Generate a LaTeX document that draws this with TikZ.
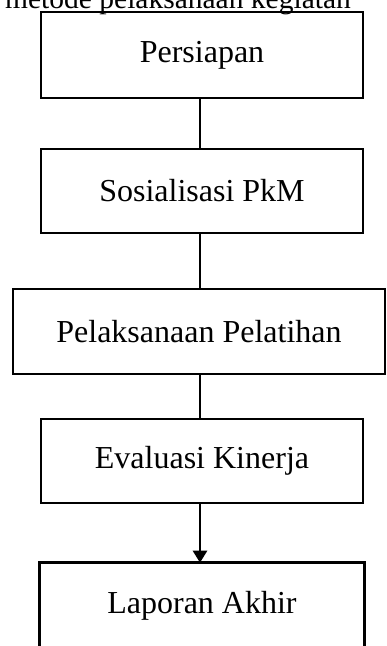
\documentclass[tikz,border=0pt]{standalone}
\usepackage{fontspec}
\setmainfont{Liberation Serif}
\usetikzlibrary{arrows.meta}
\tikzset{
  box/.style={draw=black, line width=2.6pt, minimum width=322pt, inner sep=0pt, font=\fontsize{32}{38}\selectfont, text=black},
  conn/.style={line width=2.6pt, draw=black},
}
\begin{document}
\begin{tikzpicture}[x=1pt,y=-1pt]
\useasboundingbox (0,0) rectangle (386,646);
\begin{scope}
\clip (0,0) rectangle (386,646);
\node[anchor=base west, font=\fontsize{29.5}{34}\selectfont, inner sep=0pt] (title) at (5,8) {metode pelaksanaan kegiatan};
\node[box, minimum height=86pt] (b1) at (202,55) {Persiapan};
\node[box, minimum height=84pt] (b2) at (202,191) {Sosialisasi PkM};
\node[box, minimum width=372pt, minimum height=85pt] (b3) at (199,331.5) {Pelaksanaan Pelatihan};
\node[box, minimum height=84pt] (b4) at (202,461) {Evaluasi Kinerja};
\node[box, draw=none, minimum height=84pt] (b5) at (202,606) {Laporan Akhir};
\draw[conn] (b5.south west) -- (b5.north west) -- (b5.north east) -- (b5.south east);
\draw[conn] (b1.south -| 200,0) -- (b2.north -| 200,0);
\draw[conn] (b2.south -| 200,0) -- (b3.north -| 200,0);
\draw[conn] (b3.south -| 200,0) -- (b4.north -| 200,0);
\draw[conn, -{Triangle[length=12pt, width=14pt]}] (b4.south -| 200,0) -- (b5.north -| 200,0);
\end{scope}
\end{tikzpicture}
\end{document}
